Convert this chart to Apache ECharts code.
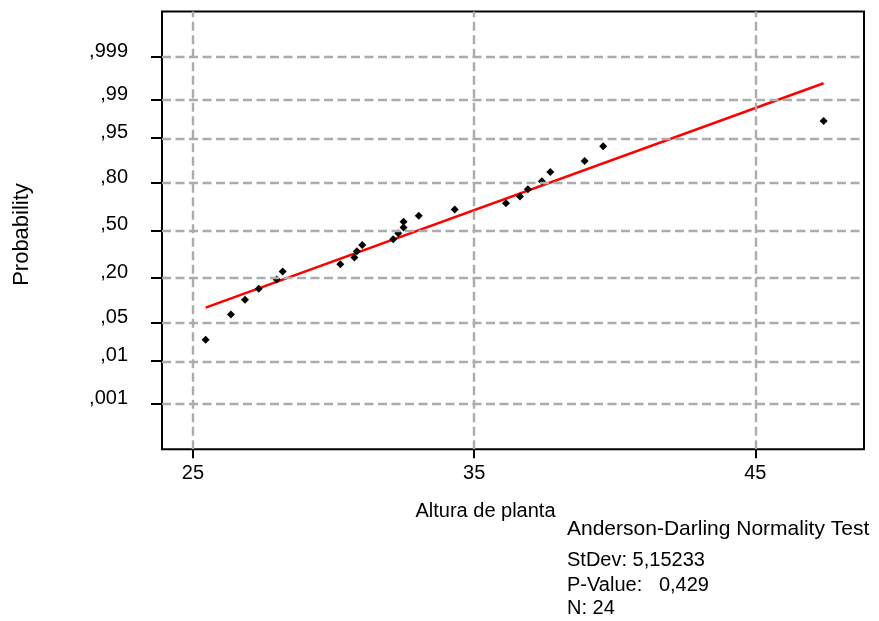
<!DOCTYPE html>
<html>
<head>
<meta charset="utf-8">
<script src="https://cdn.jsdelivr.net/npm/echarts@6/dist/echarts.min.js"></script>
<style>html,body{margin:0;padding:0;background:#fff;}#c{width:879px;height:621px;}</style>
</head>
<body>
<div id="c"></div>
<script>
// ---- data ----
const heights = [25.45, 26.35, 26.85, 27.34, 27.98, 28.19, 30.24, 30.74, 30.83, 31.02, 32.12, 32.30,
                 32.49, 32.49, 33.03, 34.31, 36.13, 36.63, 36.91, 37.41, 37.71, 38.93, 39.59, 47.43];
const probs = [0.0258, 0.0670, 0.1082, 0.1495, 0.1907, 0.2320, 0.2732, 0.3144, 0.3557, 0.3969, 0.4381, 0.4794,
               0.5206, 0.5619, 0.6031, 0.6443, 0.6856, 0.7268, 0.7680, 0.8093, 0.8505, 0.8918, 0.9330, 0.9742];
const fitX = [25.45, 47.43];
const fitP = [0.0847, 0.99559];
const probTicks = [0.001, 0.01, 0.05, 0.20, 0.50, 0.80, 0.95, 0.99, 0.999];
const probLabels = [',001', ',01', ',05', ',20', ',50', ',80', ',95', ',99', ',999'];
const xTicks = [25, 35, 45];
const xTickLabels = ['25', '35', '45'];
const noteLines = ['Anderson-Darling Normality Test', 'StDev: 5,15233', 'P-Value:   0,429', 'N: 24'];

// inverse standard normal CDF (probability-axis transform)
function normInv(p){
  const a=[-3.969683028665376e+01,2.209460984245205e+02,-2.759285104469687e+02,1.383577518672690e+02,-3.066479806614716e+01,2.506628277459239e+00];
  const b=[-5.447609879822406e+01,1.615858368580409e+02,-1.556989798598866e+02,6.680131188771972e+01,-1.328068155288572e+01];
  const c=[-7.784894002430293e-03,-3.223964580411365e-01,-2.400758277161838e+00,-2.549732539343734e+00,4.374664141464968e+00,2.938163982698783e+00];
  const d=[7.784695709041462e-03,3.224671290700398e-01,2.445134137142996e+00,3.754408661907416e+00];
  const pl=0.02425, ph=1-pl; let q,r;
  if(p<pl){q=Math.sqrt(-2*Math.log(p));return (((((c[0]*q+c[1])*q+c[2])*q+c[3])*q+c[4])*q+c[5])/((((d[0]*q+d[1])*q+d[2])*q+d[3])*q+1);}
  if(p>ph){q=Math.sqrt(-2*Math.log(1-p));return -(((((c[0]*q+c[1])*q+c[2])*q+c[3])*q+c[4])*q+c[5])/((((d[0]*q+d[1])*q+d[2])*q+d[3])*q+1);}
  q=p-0.5;r=q*q;return (((((a[0]*r+a[1])*r+a[2])*r+a[3])*r+a[4])*r+a[5])*q/(((((b[0]*r+b[1])*r+b[2])*r+b[3])*r+b[4])*r+1);
}

const zTicks = probTicks.map(normInv);
const FONT = '"Liberation Sans", Arial, sans-serif';
const gridLine = {color: '#acacac', width: 2.4, type: [9, 4.5], opacity: 1};

function nearestLabel(v, vals, labels){
  let best = 0, bd = Infinity;
  vals.forEach((t, i) => { const dd = Math.abs(t - v); if (dd < bd) { bd = dd; best = i; } });
  return labels[best];
}

const chart = echarts.init(document.getElementById('c'), null, {renderer: 'canvas'});
chart.setOption({
  animation: false,
  backgroundColor: '#fff',
  grid: {left: 162, top: 11.5, width: 702, height: 437.8, show: true, borderColor: '#000', borderWidth: 2, backgroundColor: 'transparent'},
  xAxis: {
    type: 'value', min: 23.898, max: 48.866,
    axisLine: {show: false, onZero: false},
    splitLine: {show: false},
    axisTick: {show: true, customValues: xTicks, length: 9, lineStyle: {color: '#000', width: 2}},
    axisLabel: {customValues: xTicks, fontSize: 20, color: '#000', fontFamily: FONT, margin: 14,
      formatter: v => nearestLabel(v, xTicks, xTickLabels)}
  },
  yAxis: {
    type: 'value', min: -3.896, max: 3.896,
    axisLine: {show: false, onZero: false},
    splitLine: {show: false},
    axisTick: {show: true, customValues: zTicks, length: 11, lineStyle: {color: '#000', width: 2}},
    axisLabel: {customValues: zTicks, fontSize: 20, color: '#000', fontFamily: FONT, margin: 34,
      verticalAlign: 'bottom', lineHeight: 11,
      formatter: v => nearestLabel(v, zTicks, probLabels)}
  },
  series: [
    {
      type: 'line', data: [], z: 1, silent: true,
      markLine: {
        silent: true, symbol: ['none', 'none'], animation: false,
        label: {show: false},
        lineStyle: gridLine,
        emphasis: {disabled: true},
        data: zTicks.map(z => ({yAxis: z, lineStyle: gridLine})).concat(xTicks.map(x => ({xAxis: x, lineStyle: gridLine})))
      }
    },
    {
      type: 'line', z: 2, symbol: 'none', silent: true,
      lineStyle: {color: '#ff0000', width: 2.6},
      data: fitX.map((x, i) => [x, normInv(fitP[i])])
    },
    {
      type: 'scatter', z: 3, symbol: 'diamond', symbolSize: 8,
      itemStyle: {color: '#000', opacity: 1},
      data: heights.map((x, i) => [x, normInv(probs[i])])
    }
  ],
  graphic: [
    {type: 'text', x: 485.5, y: 511.5, style: {text: 'Altura de planta', fontSize: 20, fontFamily: FONT, fill: '#000', align: 'center', verticalAlign: 'middle'}},
    {type: 'text', x: 22, y: 234.5, rotation: Math.PI / 2, style: {text: 'Probability', fontSize: 22, fontFamily: FONT, fill: '#000', align: 'center', verticalAlign: 'middle'}},
    {type: 'text', x: 567, y: 529, style: {text: noteLines[0], fontSize: 21, fontFamily: FONT, fill: '#000', align: 'left', verticalAlign: 'middle'}},
    {type: 'text', x: 567, y: 560.8, style: {text: noteLines[1], fontSize: 20, fontFamily: FONT, fill: '#000', align: 'left', verticalAlign: 'middle'}},
    {type: 'text', x: 567, y: 585.2, style: {text: noteLines[2], fontSize: 20, fontFamily: FONT, fill: '#000', align: 'left', verticalAlign: 'middle'}},
    {type: 'text', x: 567, y: 608.5, style: {text: noteLines[3], fontSize: 20, fontFamily: FONT, fill: '#000', align: 'left', verticalAlign: 'middle'}}
  ]
});
</script>
</body>
</html>
